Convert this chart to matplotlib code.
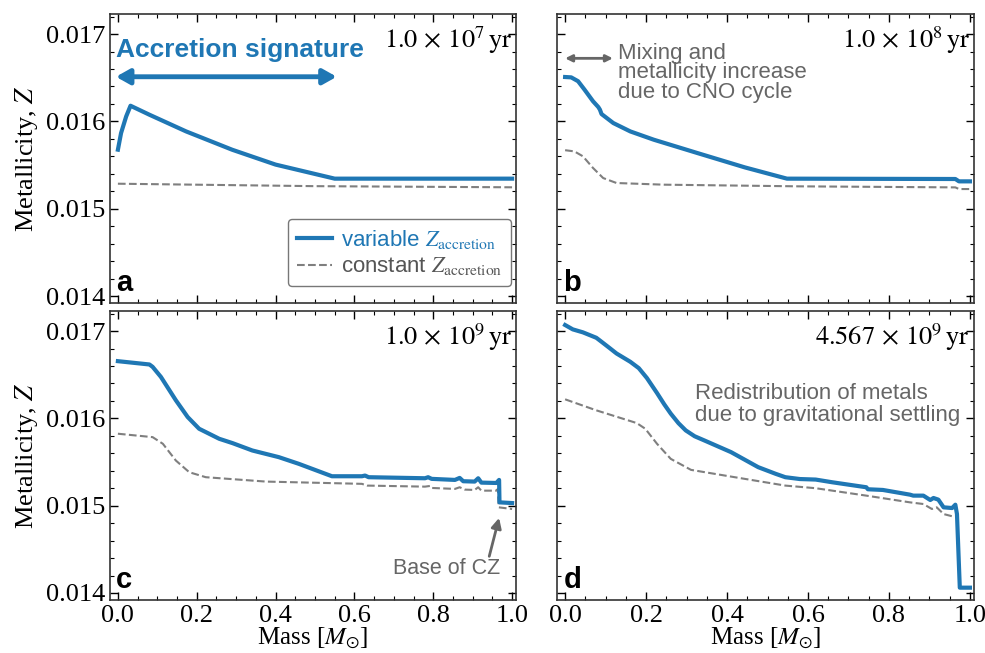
import numpy as np
import matplotlib
matplotlib.use("Agg")
import matplotlib.pyplot as plt
from matplotlib.ticker import MultipleLocator

plt.rcParams['font.family'] = ['Liberation Serif', 'DejaVu Serif']
plt.rcParams['mathtext.fontset'] = 'stix'

# --- data (mass in Msun, metallicity Z) ---
# panel a, 1e7 yr
a_var_x = [0.0, 0.008, 0.021, 0.032, 0.08, 0.173, 0.29, 0.40, 0.55, 1.0]
a_var_z = [0.015676, 0.015866, 0.016057, 0.016179, 0.016076, 0.015885, 0.015675, 0.015505, 0.015344, 0.015344]
a_con_x = [0.0, 0.5, 1.0]
a_con_z = [0.015286, 0.015258, 0.015245]

# panel b, 1e8 yr
b_var_x = [0.0, 0.015, 0.032, 0.048, 0.069, 0.082, 0.086, 0.09, 0.119, 0.161, 0.219,
           0.327, 0.444, 0.548, 0.964, 0.973, 1.0]
b_var_z = [0.016508, 0.016504, 0.01646, 0.016363, 0.01623, 0.016164, 0.016134, 0.016084,
           0.015981, 0.015885, 0.01579, 0.015637, 0.015473, 0.015344, 0.01534, 0.015313, 0.015313]
b_con_x = [0.0, 0.023, 0.044, 0.069, 0.094, 0.127, 0.244, 0.577, 0.964, 0.973, 1.0]
b_con_z = [0.01567, 0.015656, 0.0156, 0.015466, 0.015351, 0.015294, 0.015275, 0.015256,
           0.015244, 0.015225, 0.015225]

# panel c, 1e9 yr
c_var_x = [0.0, 0.08, 0.088, 0.109, 0.147, 0.177, 0.206, 0.257, 0.291, 0.341, 0.408, 0.459,
           0.543, 0.619, 0.627, 0.636, 0.779, 0.787, 0.796, 0.855, 0.867, 0.876, 0.905,
           0.914, 0.922, 0.96, 0.967, 0.968, 1.0]
c_var_z = [0.016655, 0.016617, 0.01659, 0.016475, 0.016207, 0.016015, 0.015881, 0.015766,
           0.015716, 0.015632, 0.015556, 0.015479, 0.015337, 0.015337, 0.015345, 0.015326,
           0.015314, 0.015326, 0.015307, 0.015295, 0.015318, 0.01528, 0.015276, 0.015314,
           0.015264, 0.01526, 0.015295, 0.015038, 0.01503]
c_con_x = [0.0, 0.088, 0.114, 0.147, 0.181, 0.223, 0.375, 0.619, 0.632, 0.779, 0.792, 0.796,
           0.855, 0.867, 0.88, 0.905, 0.914, 0.922, 0.96, 0.964, 0.966, 1.0]
c_con_z = [0.015824, 0.015785, 0.015709, 0.015517, 0.015383, 0.015326, 0.015276, 0.01525,
           0.01523, 0.015218, 0.015226, 0.015203, 0.015192, 0.015211, 0.015184, 0.01518,
           0.015211, 0.015172, 0.015172, 0.015192, 0.014981, 0.014962]

# panel d, 4.567e9 yr
d_var_x = [0.0, 0.019, 0.044, 0.077, 0.09, 0.11, 0.127, 0.161, 0.182, 0.202, 0.227, 0.245,
           0.261, 0.28, 0.298, 0.32, 0.344, 0.41, 0.477, 0.52, 0.544, 0.58, 0.619, 0.66, 0.744,
           0.748, 0.785, 0.852, 0.86, 0.885, 0.902, 0.91, 0.922, 0.935, 0.956, 0.964, 0.968,
           0.975, 1.0]
d_var_z = [0.017069, 0.017019, 0.016985, 0.016923, 0.016877, 0.016805, 0.016743, 0.016648,
           0.016575, 0.016462, 0.016290, 0.016160, 0.016054, 0.015945, 0.015862, 0.015795,
           0.015747, 0.015613, 0.015441, 0.015365, 0.015326, 0.015305, 0.015299, 0.015268,
           0.015211, 0.015188, 0.01518, 0.015126, 0.015115, 0.015115, 0.015065, 0.015088,
           0.015069, 0.014981, 0.014973, 0.015011, 0.014904, 0.014061, 0.014061]
d_con_x = [0.0, 0.077, 0.177, 0.198, 0.227, 0.261, 0.311, 0.41, 0.544, 0.619, 0.744, 0.852,
           0.885, 0.906, 0.918, 0.935, 0.96]
d_con_z = [0.016218, 0.016092, 0.015946, 0.015881, 0.015709, 0.015536, 0.01541, 0.015333,
           0.01523, 0.0152, 0.015115, 0.015038, 0.015019, 0.014962, 0.014981, 0.014904, 0.014874]

ages = [r'$1.0\,\times\,10^{7}\,\mathrm{yr}$', r'$1.0\,\times\,10^{8}\,\mathrm{yr}$',
        r'$1.0\,\times\,10^{9}\,\mathrm{yr}$', r'$4.567\,\times\,10^{9}\,\mathrm{yr}$']
letters = ['a', 'b', 'c', 'd']

blue = '#1f77b4'
grey = '#7f7f7f'
note = '#666666'
sans = ['Liberation Sans', 'DejaVu Sans']

fig = plt.figure(figsize=(9.85, 6.53), dpi=100)
lefts = [0.1117, 0.5655]
widths = [0.4122, 0.4233]
bots = [0.536, 0.0812]
h = 0.4426
axes = []
for r in range(2):
    for c in range(2):
        axes.append(fig.add_axes([lefts[c], bots[r], widths[c], h]))

data = [(a_var_x, a_var_z, a_con_x, a_con_z), (b_var_x, b_var_z, b_con_x, b_con_z),
        (c_var_x, c_var_z, c_con_x, c_con_z), (d_var_x, d_var_z, d_con_x, d_con_z)]

for i, ax in enumerate(axes):
    vx, vz, cx, cz = data[i]
    ax.plot(cx, cz, '--', color=grey, lw=1.5, label=r'constant $Z_{\rm accretion}$')
    ax.plot(vx, vz, '-', color=blue, lw=3, label=r'variable $Z_{\rm accretion}$')
    ax.set_xlim(-0.02, 1.01)
    ax.set_ylim(0.01392, 0.01723)
    ax.xaxis.set_major_locator(MultipleLocator(0.2))
    ax.xaxis.set_minor_locator(MultipleLocator(0.05))
    ax.yaxis.set_major_locator(MultipleLocator(0.001))
    ax.yaxis.set_minor_locator(MultipleLocator(0.0002))
    ax.tick_params(which='both', direction='in', top=True, right=True, labelsize=19)
    ax.tick_params(which='major', length=6, width=1)
    ax.tick_params(which='minor', length=3, width=0.8)
    for s in ax.spines.values():
        s.set_linewidth(1.2)
        s.set_color('#333333')
    ax.yaxis.set_major_formatter(matplotlib.ticker.FormatStrFormatter('%.3f'))
    if i % 2 == 1:
        ax.set_yticklabels([])
    else:
        ax.set_ylabel(r'Metallicity, $Z$', fontsize=19, labelpad=4)
    if i < 2:
        ax.set_xticklabels([])
    else:
        ax.set_xlabel(r'Mass [$M_{\odot}$]', fontsize=18, labelpad=-1)
    ax.text(0.99, 0.965, ages[i], transform=ax.transAxes,
            ha='right', va='top', fontsize=19)
    ax.text(0.015, 0.02, letters[i], transform=ax.transAxes, ha='left', va='bottom',
            fontsize=21, fontweight='bold', family=sans)

# legend in panel a
handles, labels = axes[0].get_legend_handles_labels()
leg = axes[0].legend(handles[::-1], labels[::-1], loc='lower right',
                     handlelength=1.6, handletextpad=0.4, borderpad=0.4,
                     labelspacing=0.2, fancybox=True, edgecolor='#555555',
                     borderaxespad=0.3, bbox_to_anchor=(1.005, 0.035),
                     prop={'family': sans, 'size': 16})
leg.get_frame().set_linewidth(1.0)
leg.get_texts()[0].set_color(blue)
leg.get_texts()[1].set_color('#555555')

# annotations
axes[0].text(-0.005, 0.01682, 'Accretion signature', color=blue, fontsize=19,
             fontweight='bold', family=sans, va='center', ha='left')
axes[0].annotate('', xy=(-0.005, 0.016511), xytext=(0.555, 0.016511),
                 arrowprops=dict(arrowstyle='<|-|>,head_length=0.8,head_width=0.45',
                                 color=blue, lw=3.5, shrinkA=0, shrinkB=0))

axes[1].annotate('', xy=(0.0, 0.016722), xytext=(0.118, 0.016722),
                 arrowprops=dict(arrowstyle='<|-|>,head_length=0.4,head_width=0.2',
                                 color=note, lw=2, shrinkA=0, shrinkB=0))
axes[1].text(0.13, 0.0169, 'Mixing and\nmetallicity increase\ndue to CNO cycle',
             color=note, fontsize=16, family=sans, va='top', ha='left', linespacing=0.9)

axes[2].text(0.835, 0.01428, 'Base of CZ', color=note, fontsize=15.5, family=sans,
             ha='center', va='center')
axes[2].annotate('', xy=(0.967, 0.01486), xytext=(0.942, 0.01442),
                 arrowprops=dict(arrowstyle='-|>,head_length=0.6,head_width=0.3',
                                 color=note, lw=2, shrinkA=0, shrinkB=0))

axes[3].text(0.32, 0.01616, 'Redistribution of metals\ndue to gravitational settling',
             color=note, fontsize=16, family=sans, va='center', ha='left', linespacing=1.05)

fig.savefig('out.png', dpi=100)
